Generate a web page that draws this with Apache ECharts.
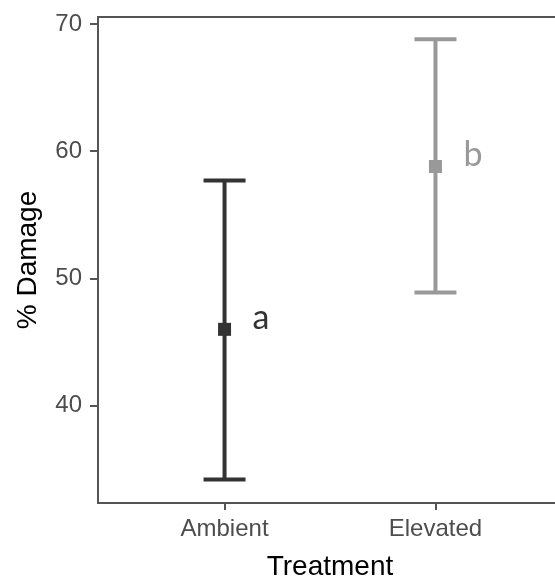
<!DOCTYPE html>
<html>
<head>
<meta charset="utf-8">
<script src="https://cdn.jsdelivr.net/npm/echarts@6/dist/echarts.min.js"></script>
<style>
  html, body { margin: 0; padding: 0; background: #ffffff; }
  #chart { width: 555px; height: 577px; }
</style>
</head>
<body>
<div id="chart"></div>
<script>
// Treatment groups and their mean damage with interval limits
const treatments = ['Ambient', 'Elevated'];
const means = [46.0, 58.8];
const lower = [34.2, 48.9];
const upper = [57.7, 68.8];
const groupLetters = ['a', 'b'];
const groupColors = ['#333333', '#999999'];
const yTicks = [40, 50, 60, 70];
const xTicks = [1, 2];

const chart = echarts.init(document.getElementById('chart'), null, { renderer: 'canvas' });

const rows = treatments.map((t, i) => [i + 1, lower[i], upper[i], means[i], i]);

const option = {
  animation: false,
  backgroundColor: '#ffffff',
  grid: {
    left: 98, top: 17, right: -7, bottom: 74,
    containLabel: false, outerBoundsMode: 'none',
    show: true, borderColor: '#555555', borderWidth: 2, backgroundColor: 'transparent'
  },
  xAxis: {
    type: 'value', min: 0.4, max: 2.6,
    name: 'Treatment', nameLocation: 'middle', nameGap: 50,
    nameTextStyle: { fontFamily: 'Liberation Sans', fontSize: 28, color: '#000000' },
    axisLine: { show: false },
    splitLine: { show: false },
    axisTick: { show: true, customValues: xTicks, length: 7, lineStyle: { color: '#555555', width: 2 } },
    axisLabel: {
      customValues: xTicks, margin: 14,
      fontFamily: 'Liberation Sans', fontSize: 24, color: '#4d4d4d',
      formatter: v => treatments[Math.round(v) - 1] || ''
    }
  },
  yAxis: {
    type: 'value', min: 32.35, max: 70.55,
    name: '% Damage', nameLocation: 'middle', nameGap: 56,
    nameTextStyle: { fontFamily: 'Liberation Sans', fontSize: 28, color: '#000000' },
    axisLine: { show: false },
    splitLine: { show: false },
    axisTick: { show: true, customValues: yTicks, length: 8, lineStyle: { color: '#555555', width: 2 } },
    axisLabel: {
      customValues: yTicks, margin: 16,
      fontFamily: 'Liberation Sans', fontSize: 24, color: '#4d4d4d'
    }
  },
  series: [
    {
      // error bars with caps, mean square and group letter
      type: 'custom',
      data: rows,
      encode: { x: 0, y: [1, 2, 3] },
      renderItem: function (params, api) {
        const i = api.value(4);
        const color = groupColors[i];
        const lo = api.coord([api.value(0), api.value(1)]);
        const hi = api.coord([api.value(0), api.value(2)]);
        const mid = api.coord([api.value(0), api.value(3)]);
        const capHalf = 21;
        const stroke = { stroke: color, lineWidth: 4, fill: null };
        return {
          type: 'group',
          children: [
            { type: 'line', shape: { x1: lo[0], y1: lo[1], x2: hi[0], y2: hi[1] }, style: stroke },
            { type: 'line', shape: { x1: hi[0] - capHalf, y1: hi[1], x2: hi[0] + capHalf, y2: hi[1] }, style: stroke },
            { type: 'line', shape: { x1: lo[0] - capHalf, y1: lo[1], x2: lo[0] + capHalf, y2: lo[1] }, style: stroke },
            { type: 'rect', shape: { x: mid[0] - 6.5, y: mid[1] - 6.5, width: 13, height: 13 }, style: { fill: color } },
            {
              type: 'text',
              x: mid[0] + 28, y: mid[1] - 11,
              style: {
                text: groupLetters[i], fill: color,
                font: '34px Lato', textAlign: 'left', textVerticalAlign: 'middle', verticalAlign: 'middle'
              }
            }
          ]
        };
      }
    }
  ]
};

chart.setOption(option);
</script>
</body>
</html>
